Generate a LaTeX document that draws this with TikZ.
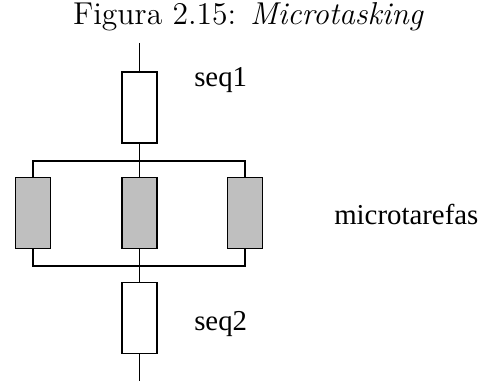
\documentclass[tikz,border=0pt]{standalone}
\usepackage{fontspec}
\newfontfamily\timesfont{Liberation Serif}
\newfontfamily\titlefont{lmroman12-regular.otf}[ItalicFont=lmroman12-italic.otf]
\usepackage{tikz}
\usetikzlibrary{positioning}
\tikzstyle{seqBox} = [rectangle, minimum width=0.875cm, minimum height=1.775cm, inner sep=0pt, outer sep=0pt, draw=black, line width=0.8pt]
\tikzstyle{microBox} = [seqBox, fill=black!25]
\tikzstyle{line} = [line width=0.8pt]
\tikzstyle{seqLabel} = [anchor=base west, inner sep=0pt, font=\timesfont\fontsize{20.5}{24}\selectfont]

\begin{document}
\begin{tikzpicture}[x=0.025cm, y=-0.025cm]
    \useasboundingbox (0,0) rectangle (480,381);
    \node (title) [anchor=base, inner sep=0pt, font=\titlefont\fontsize{22.5}{26}\selectfont] at (248.5,25) {Figura 2.15: \textit{Microtasking}};
    % sequential parts
    \node (seq1) [seqBox] at (139.5,107.5) {};
    \node (seq2) [seqBox] at (139.5,318) {};
    % microtasks
    \node (m1) [microBox] at (33,213) {};
    \node (m2) [microBox] at (139.5,213) {};
    \node (m3) [microBox] at (245,213) {};
    \coordinate (entry) at (139.5,43);
    \coordinate (split) at (139.5,161);
    \coordinate (join) at (139.5,266);
    \coordinate (exit) at (139.5,381);
    \draw [line] (entry) -- (seq1);
    \draw [line] (seq1) -- (split) -- (m2);
    \draw [line] (m1) |- (split) -| (m3);
    \draw [line] (m1) |- (join) -| (m3);
    \draw [line] (m2) -- (join) -- (seq2);
    \draw [line] (seq2) -- (exit);
    \node (l1) [seqLabel] at (194,87) {seq1};
    \node (l2) [seqLabel] at (334,224) {microtarefas};
    \node (l3) [seqLabel] at (194,330) {seq2};
\end{tikzpicture}
\end{document}
